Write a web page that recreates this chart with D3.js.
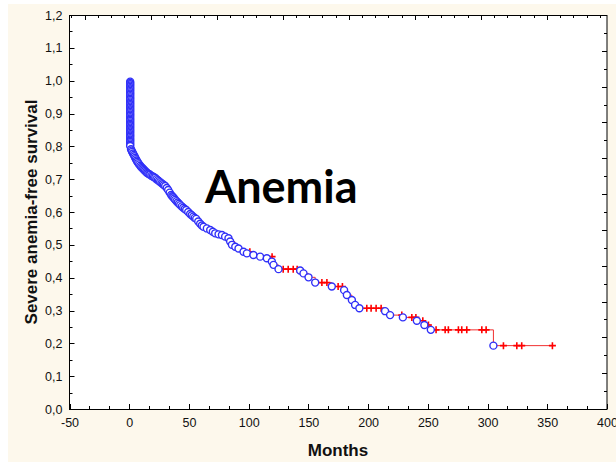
<!DOCTYPE html>
<html>
<head>
<meta charset="utf-8">
<script src="https://cdn.jsdelivr.net/npm/d3@7"></script>
<style>
  body { margin: 0; background: #fff; }
  svg { display: block; }
</style>
</head>
<body>
<div id="chart"></div>
<script>
// survival data (Kaplan-Meier, severe anemia-free)
var initialMonth = 0.8;
var initialSurvival = [0.997, 0.993, 0.989, 0.985, 0.981, 0.977, 0.973, 0.969, 0.965, 0.961,
  0.957, 0.953, 0.949, 0.945, 0.941, 0.937, 0.933, 0.929, 0.925, 0.921,
  0.917, 0.913, 0.909, 0.905, 0.901, 0.897, 0.893, 0.889, 0.885, 0.881,
  0.877, 0.873, 0.869, 0.865, 0.861, 0.857, 0.853, 0.849, 0.845, 0.841,
  0.837, 0.833, 0.829, 0.825, 0.821, 0.817, 0.813, 0.809, 0.805, 0.801];

var eventMonths = [1.5, 2.0, 2.5, 3.2, 3.8, 4.4, 5.0, 5.6, 6.2, 6.8, 7.5, 8.3, 9.2, 10.0, 10.9, 11.7,
  12.5, 13.3, 14.2, 15.0, 15.9, 16.8, 17.6, 18.6, 19.7, 20.8, 21.8, 22.8, 23.9, 24.9, 25.9, 27.0,
  28.0, 29.0, 30.1, 31.4, 32.6, 33.9, 35.1, 36.0, 36.8, 37.7, 38.5, 39.6, 40.6, 41.7, 42.7, 44.0,
  45.2, 46.5, 47.7, 49.4, 51.0, 52.3, 53.6, 54.9, 56.1, 57.8, 59.4, 60.8, 62.2, 65.0, 67.8, 70.0,
  72.0, 74.8, 77.6, 80.3, 83.1, 84.5, 86.0, 88.8, 91.5, 95.7, 98.5, 104.0, 109.6, 115.2,
  119.4, 120.8, 125.0, 143.1, 145.9, 150.1, 155.7, 169.6, 179.9, 182.2, 186.4, 189.1, 192.7,
  214.2, 218.4, 229.1, 240.8, 247.1, 252.5, 304.9];
var eventSurvival = [0.791, 0.787, 0.783, 0.778, 0.774, 0.770, 0.765, 0.761, 0.757, 0.753, 0.749, 0.745, 0.741, 0.737, 0.734, 0.731,
  0.728, 0.725, 0.722, 0.719, 0.717, 0.715, 0.713, 0.710, 0.708, 0.706, 0.704, 0.700, 0.697, 0.694, 0.691, 0.688,
  0.685, 0.682, 0.679, 0.673, 0.667, 0.659, 0.652, 0.648, 0.645, 0.641, 0.637, 0.633, 0.629, 0.625, 0.621, 0.617,
  0.613, 0.609, 0.606, 0.600, 0.594, 0.590, 0.586, 0.582, 0.579, 0.571, 0.564, 0.559, 0.555, 0.550, 0.545, 0.540,
  0.535, 0.532, 0.530, 0.525, 0.520, 0.510, 0.500, 0.494, 0.489, 0.479, 0.474, 0.469, 0.464, 0.459,
  0.449, 0.439, 0.426, 0.422, 0.413, 0.401, 0.385, 0.373, 0.362, 0.347, 0.332, 0.317, 0.307,
  0.298, 0.286, 0.279, 0.269, 0.256, 0.241, 0.193];

var censoredMonths = [30.0, 52.0, 78.0, 88.0, 101.0, 119.6, 128.9, 133.1, 137.3, 140.6, 161.3, 165.5, 174.9, 178.5,
  198.9, 202.5, 206.7, 210.9, 228.2, 236.6, 240.0, 245.8, 250.5, 256.9, 264.5, 267.2, 275.6, 278.4,
  282.6, 295.2, 298.8, 313.3, 324.5, 328.6, 354.3];
var censoredSurvival = [0.679, 0.594, 0.530, 0.500, 0.479, 0.464, 0.426, 0.426, 0.426, 0.426, 0.385, 0.385, 0.373, 0.373,
  0.307, 0.307, 0.307, 0.307, 0.286, 0.279, 0.279, 0.269, 0.256, 0.241, 0.241, 0.241, 0.241, 0.241,
  0.241, 0.241, 0.241, 0.193, 0.193, 0.193, 0.193];

var xTicks = [-50, 0, 50, 100, 150, 200, 250, 300, 350, 400];
var yTicks = [0, 0.1, 0.2, 0.3, 0.4, 0.5, 0.6, 0.7, 0.8, 0.9, 1.0, 1.1, 1.2];

var w = 616, h = 462;
var pLeft = 69.5, pRight = 607, pTop = 15, pBottom = 409;

var svg = d3.select('#chart').append('svg')
  .attr('width', w).attr('height', h);

svg.append('rect').attr('x', 8).attr('y', 4).attr('width', w - 8).attr('height', h - 4)
  .attr('fill', '#fdf8ec');
svg.append('rect').attr('x', pLeft).attr('y', pTop)
  .attr('width', pRight - pLeft).attr('height', pBottom - pTop)
  .attr('fill', '#fff');

var x = d3.scaleLinear().domain([-50, 400]).range([pLeft, pRight]);
var y = d3.scaleLinear().domain([0, 1.2]).range([pBottom, pTop]);
// the top and right frames carry their own unlabeled tick sets
var xTop = d3.scaleLinear().domain([-1.23, 6.91]).range([pLeft, pRight]);
var yRight = d3.scaleLinear().domain([0, 1.1]).range([pBottom, pTop]);

var fmtY = function(d) { return d.toFixed(1).replace('.', ','); };
var fmtX = function(d) { return String(d); };

function tickLines(g, ticks, len) {
  g.selectAll('line').data(ticks).enter().append('line')
    .attr('stroke', '#000').attr('stroke-width', 1)
    .each(function(d) { len(d3.select(this), d); });
}

// bottom axis
var gx = svg.append('g').attr('transform', 'translate(0,' + pBottom + ')')
  .call(d3.axisBottom(x).tickValues(xTicks).tickSize(0).tickPadding(9).tickFormat(fmtX));
gx.select('.domain').remove();
gx.selectAll('text').attr('font-family', 'Liberation Sans, Arial, sans-serif').attr('font-size', 12.5).attr('fill', '#111');
tickLines(svg.append('g'), d3.range(-50, 401, 50 / 3), function(s, d) {
  var major = Math.abs(d / 50 - Math.round(d / 50)) < 1e-6;
  s.attr('x1', Math.round(x(d)) + 0.5).attr('x2', Math.round(x(d)) + 0.5)
    .attr('y1', pBottom).attr('y2', pBottom - (major ? 5 : 3));
});

// left axis
var gy = svg.append('g').attr('transform', 'translate(' + pLeft + ',0)')
  .call(d3.axisLeft(y).tickValues(yTicks).tickSize(0).tickPadding(7).tickFormat(fmtY));
gy.select('.domain').remove();
gy.selectAll('text').attr('font-family', 'Liberation Sans, Arial, sans-serif').attr('font-size', 12.5).attr('fill', '#111');
tickLines(svg.append('g'), d3.range(0, 1.2001, 0.05), function(s, d) {
  var major = Math.abs(d * 10 - Math.round(d * 10)) < 1e-6;
  s.attr('y1', Math.round(y(d)) + 0.5).attr('y2', Math.round(y(d)) + 0.5)
    .attr('x1', pLeft).attr('x2', pLeft + (major ? 5 : 3));
});

// top and right frame ticks
tickLines(svg.append('g'), d3.range(-1.2, 6.91, 0.2), function(s, d) {
  var major = Math.abs(d - Math.round(d)) < 1e-6;
  s.attr('x1', Math.round(xTop(d)) + 0.5).attr('x2', Math.round(xTop(d)) + 0.5)
    .attr('y1', pTop).attr('y2', pTop + (major ? 5 : 3));
});
tickLines(svg.append('g'), d3.range(0, 1.1001, 0.05), function(s, d) {
  var major = Math.abs(d * 10 - Math.round(d * 10)) < 1e-6;
  s.attr('y1', Math.round(yRight(d)) + 0.5).attr('y2', Math.round(yRight(d)) + 0.5)
    .attr('x1', pRight).attr('x2', pRight - (major ? 5 : 3));
});

svg.append('rect').attr('x', pLeft).attr('y', pTop + 0.5)
  .attr('width', pRight - pLeft).attr('height', pBottom - pTop)
  .attr('fill', 'none').attr('stroke', '#000').attr('stroke-width', 1);

// step line
var events = initialSurvival.map(function(s) { return [initialMonth, s]; })
  .concat(eventMonths.map(function(t, i) { return [t, eventSurvival[i]]; }));
var stepPts = [[0, 1.0]].concat(events)
  .concat([[censoredMonths[censoredMonths.length - 1], censoredSurvival[censoredSurvival.length - 1]]]);

svg.append('path').datum(stepPts)
  .attr('d', d3.line().x(function(d) { return x(d[0]); }).y(function(d) { return y(d[1]); }).curve(d3.curveStepAfter))
  .attr('fill', 'none').attr('stroke', '#f03030').attr('stroke-width', 1);

// censored marks
svg.append('g').selectAll('path').data(censoredMonths).enter().append('path')
  .attr('d', function(t, i) {
    var cx = x(t), cy = y(censoredSurvival[i]);
    return 'M' + (cx - 3.5) + ',' + cy + 'H' + (cx + 3.5) + 'M' + cx + ',' + (cy - 3.5) + 'V' + (cy + 3.5);
  })
  .attr('stroke', '#ff0000').attr('stroke-width', 1.6).attr('fill', 'none');

// events
svg.append('g').selectAll('circle').data(events).enter().append('circle')
  .attr('cx', function(d) { return x(d[0]); })
  .attr('cy', function(d) { return y(d[1]); })
  .attr('r', 3.5)
  .attr('fill', '#fff').attr('stroke', '#3030f8').attr('stroke-width', 1.4);

// titles
svg.append('text').attr('x', 205).attr('y', 203)
  .attr('font-family', 'Lato, sans-serif').attr('font-weight', 'bold').attr('font-size', 45)
  .attr('fill', '#000').text('Anemia');

svg.append('text').attr('x', 338).attr('y', 456)
  .attr('text-anchor', 'middle')
  .attr('font-family', 'Liberation Sans, Arial, sans-serif').attr('font-weight', 'bold').attr('font-size', 17)
  .attr('fill', '#111').text('Months');

svg.append('text').attr('transform', 'translate(37,' + 212 + ') rotate(-90)')
  .attr('text-anchor', 'middle')
  .attr('font-family', 'Liberation Sans, Arial, sans-serif').attr('font-weight', 'bold').attr('font-size', 17)
  .attr('fill', '#111').text('Severe anemia-free survival');
</script>
</body>
</html>
